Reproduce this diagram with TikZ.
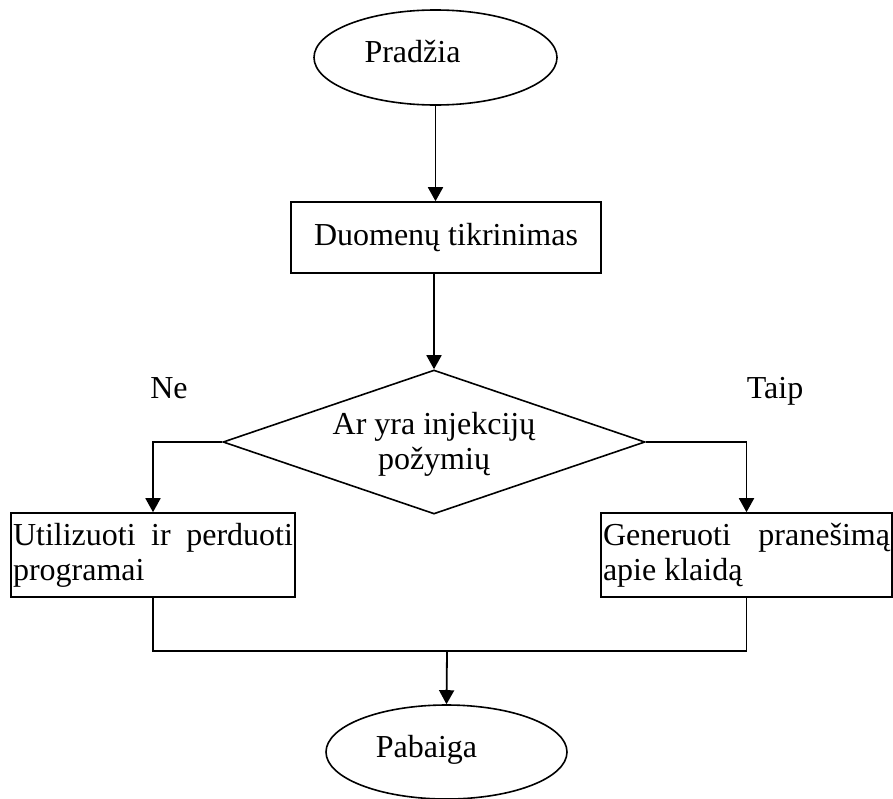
\documentclass[tikz,border=0pt]{standalone}
\usepackage{fontspec}
\setmainfont{Liberation Serif}
\usetikzlibrary{arrows.meta,shapes.geometric}
\tikzstyle{line} = [draw, line width=1.8pt, -{Triangle[length=14pt,width=15pt]}]
\tikzstyle{wire} = [draw, line width=1.8pt]
\tikzstyle{terminal} = [draw, ellipse, line width=1.6pt, inner sep=0pt]
\tikzstyle{block} = [draw, rectangle, line width=1.6pt, inner sep=0pt]
\tikzstyle{decision} = [draw, diamond, line width=1.6pt, inner sep=0pt]

\begin{document}
\begin{tikzpicture}[x=1pt,y=-1pt,font=\fontsize{32}{35}\selectfont]
  \useasboundingbox (0,0) rectangle (893,798);
  % blocks
  \node[terminal,minimum width=243pt,minimum height=95pt,
        label={[xshift=-23pt,yshift=6pt]center:Pradžia}] (start) at (435.5,57.5) {};
  \node[block,minimum width=310pt,minimum height=71pt] (check) at (446,237.5) {Duomenų tikrinimas};
  \node[decision,minimum width=422pt,minimum height=144pt,
        label={[align=center,yshift=-2pt]center:{Ar yra injekcijų\\požymių}}] (decide) at (434,442) {};
  \node[block,inner xsep=2pt,text width=280pt,minimum height=84pt,align=justify] (util) at (153,555)
        {Utilizuoti ir perduoti\linebreak programai};
  \node[block,inner xsep=2pt,text width=287pt,minimum height=84pt,align=justify] (gen) at (746.5,555)
        {Generuoti pranešimą\linebreak apie klaidą};
  \node[terminal,minimum width=241pt,minimum height=94pt,
        label={[xshift=-20pt,yshift=2pt]center:Pabaiga}] (stop) at (446.5,752) {};
  \node[anchor=base] (no) at (169,398) {Ne};
  \node[anchor=base] (yes) at (775,398) {Taip};
  \coordinate (join) at (447,651);
  % connectors
  \draw[line] (start.south) -- (start.south |- check.north);
  \draw[line] (check.south -| decide.north) -- (decide.north);
  \draw[line] (decide.west) -| (util.north);
  \draw[line] (decide.east) -| (gen.north);
  \draw[wire] (util.south) |- (join) -| (gen.south);
  \draw[line] (join) -- (stop.north);
\end{tikzpicture}
\end{document}
